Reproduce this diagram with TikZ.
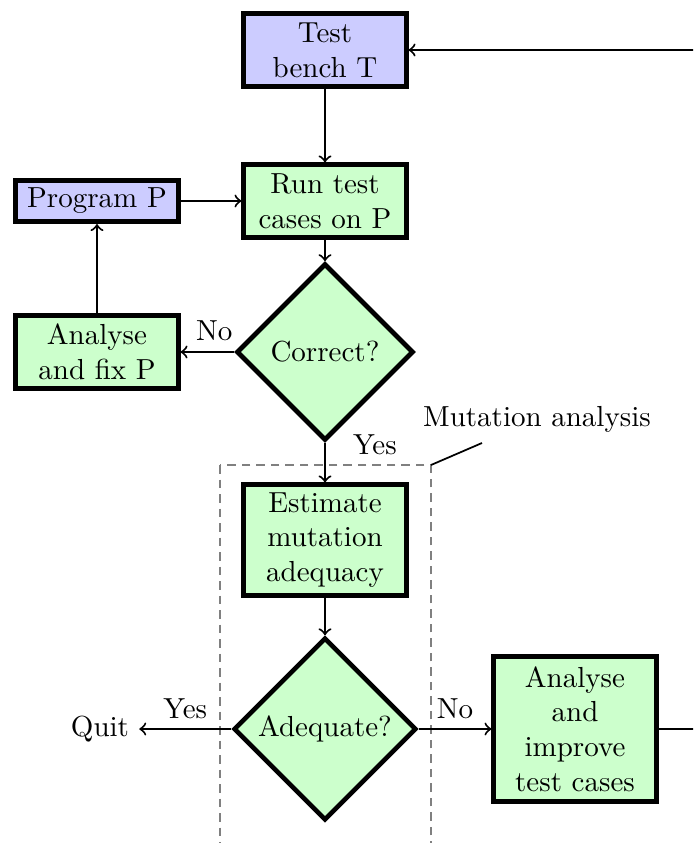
\documentclass[tikz,border=0pt]{standalone}
\usetikzlibrary{shapes.geometric}
\begin{document}
\begin{tikzpicture}[x=0.3448pt, y=-0.3448pt,
  block/.style={draw, line width=1.6pt, fill=green!20, minimum width=56pt,
    minimum height=25pt, inner sep=0pt, align=center},
  inputbox/.style={block, fill=blue!20},
  decision/.style={diamond, draw, line width=1.6pt, fill=green!20, aspect=1,
    inner sep=0pt, align=center},
  link/.style={line width=0.7pt, ->},
  frame/.style={gray, line width=0.5pt, dash pattern=on 3pt off 2pt}]
\useasboundingbox (0,0) rectangle (693,843);
\clip (0,0) rectangle (693,843);

% mutation analysis region
\coordinate (fa) at (220,465);
\coordinate (fb) at (431,900);
\draw[frame] (fa) rectangle (fb);
\coordinate (mcorner) at (431,465);
\coordinate (mtick) at (482,443);
\node (mlabel) at (537,419) {Mutation analysis};
\draw[line width=0.6pt] (mcorner) -- (mtick);

% nodes
\node[inputbox] (test) at (325,50) {Test\\bench T};
\node[block] (run) at (325,201) {Run test\\cases on P};
\node[inputbox, minimum height=14.3pt] (prog) at (97,201) {Program P};
\node[decision, minimum width=61pt, minimum height=61pt] (correct) at (325,352) {Correct?};
\node[block] (fix) at (97,352) {Analyse\\and fix P};
\node[block, minimum height=38.1pt] (estimate) at (325,540) {Estimate\\mutation\\adequacy};
\node[decision, minimum width=63pt, minimum height=63pt] (adequate) at (325,729) {Adequate?};
\node (quit) at (100,729) {Quit};
\node[block, minimum height=50.2pt] (improve) at (575,729) {Analyse\\and\\improve\\test cases};
\coordinate (loop) at (720,729);

% connectors
\draw[link] (test) -- (run);
\draw[link] (prog) -- (run);
\draw[link] (run) -- (correct);
\draw[link] (correct.west) -- node[above, pos=0.37] {No} (fix.east);
\draw[link] (fix) -- (prog);
\draw[link] (correct.south) -- node[pos=0.05, right=6pt] {Yes} (estimate.north);
\draw[link] (estimate) -- (adequate);
\draw[link] (adequate.west) -- node[above] {Yes} (quit.east);
\draw[link] (adequate.east) -- node[above] {No} (improve.west);
\draw[link] (improve.east) -- (loop) |- (test.east);
\end{tikzpicture}
\end{document}
